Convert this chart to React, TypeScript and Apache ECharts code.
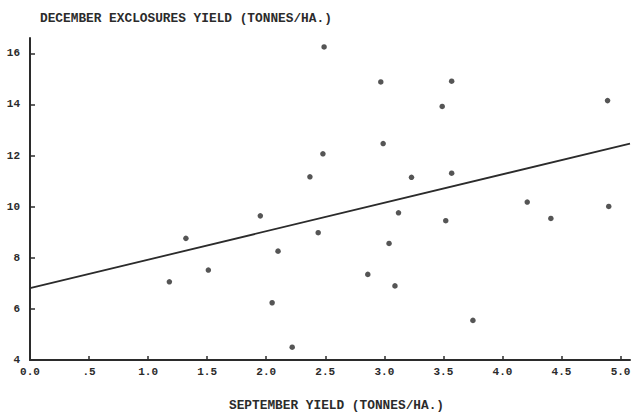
import React, { useEffect, useRef } from "react";
import * as echarts from "echarts";

const septemberYield = [2.49, 2.48, 2.37, 2.97, 3.57, 3.49, 4.89, 2.99, 3.23, 3.57, 1.95, 1.32, 2.44, 2.10, 1.51, 1.18, 2.05, 2.22, 4.21, 4.90, 4.41, 3.12, 3.52, 3.04, 2.86, 3.09, 3.75];
const decemberYield = [16.25, 12.07, 11.17, 14.88, 14.91, 13.92, 14.15, 12.47, 11.15, 11.31, 9.64, 8.76, 8.98, 8.26, 7.52, 7.06, 6.24, 4.50, 10.18, 10.01, 9.54, 9.76, 9.45, 8.56, 7.35, 6.90, 5.55];
const fitX = [0, 5.08];
const fitY = [6.81, 12.47];
const xTicks = [0, 0.5, 1, 1.5, 2, 2.5, 3, 3.5, 4, 4.5, 5];
const xTickLabels = ["0.0", ".5", "1.0", "1.5", "2.0", "2.5", "3.0", "3.5", "4.0", "4.5", "5.0"];
const yTicks = [4, 6, 8, 10, 12, 14, 16];
const yTitle = "DECEMBER EXCLOSURES YIELD (TONNES/HA.)";
const xTitle = "SEPTEMBER YIELD (TONNES/HA.)";

const FONT = "'Liberation Mono', 'DejaVu Sans Mono', monospace";
const INK = "#2b2b2b";

export default function App() {
  const ref = useRef<HTMLDivElement>(null);
  useEffect(() => {
    document.body.style.margin = "0";
    const chart = echarts.init(ref.current!, null, { renderer: "svg" });
    chart.setOption({
      animation: false,
      backgroundColor: "#ffffff",
      grid: { left: 30, right: 4, top: 38, bottom: 55 },
      graphic: [
        {
          type: "text",
          left: 40,
          top: 12,
          style: { text: yTitle, font: `bold 12.8px ${FONT}`, fill: INK },
        },
        {
          type: "text",
          left: 229,
          top: 399,
          style: { text: xTitle, font: `bold 12.8px ${FONT}`, fill: INK },
        },
      ],
      xAxis: {
        type: "value",
        min: 0,
        max: 5.08,
        splitLine: { show: false },
        axisLine: { show: true, onZero: false, lineStyle: { color: INK, width: 2 } },
        axisTick: { show: true, inside: true, length: 4, customValues: xTicks, lineStyle: { color: INK, width: 1.5 } },
        axisLabel: {
          customValues: xTicks,
          formatter: (v: number) => xTickLabels[xTicks.indexOf(v)] ?? "",
          color: INK,
          fontFamily: FONT,
          fontWeight: "bold",
          fontSize: 11,
          margin: 6,
        },
      },
      yAxis: {
        type: "value",
        min: 4,
        max: 16.6,
        splitLine: { show: false },
        axisLine: { show: true, onZero: false, lineStyle: { color: INK, width: 2 } },
        axisTick: { show: true, inside: true, length: 5, customValues: yTicks, lineStyle: { color: INK, width: 1.5 } },
        axisLabel: {
          customValues: yTicks,
          formatter: (v: number) => String(v),
          color: INK,
          fontFamily: FONT,
          fontWeight: "bold",
          fontSize: 11,
          margin: 10,
        },
      },
      series: [
        {
          type: "line",
          data: fitX.map((x, i) => [x, fitY[i]]),
          showSymbol: false,
          symbol: "none",
          lineStyle: { color: INK, width: 1.8 },
        },
        {
          type: "scatter",
          data: septemberYield.map((x, i) => [x, decemberYield[i]]),
          symbol: "circle",
          symbolSize: 5.5,
          itemStyle: { color: INK },
        },
      ],
    });
    return () => chart.dispose();
  }, []);
  return <div ref={ref} style={{ width: 634, height: 415 }} />;
}
